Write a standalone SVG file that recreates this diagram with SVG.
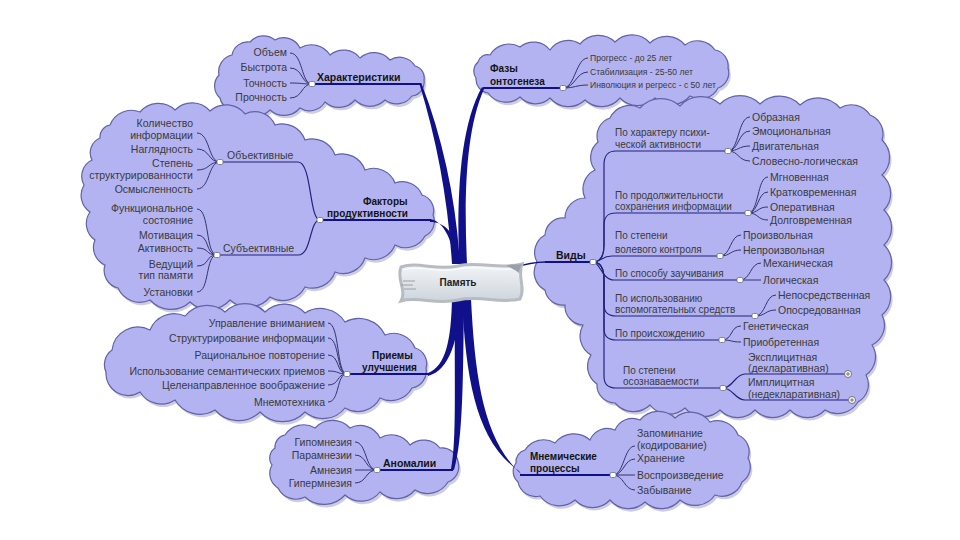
<svg xmlns="http://www.w3.org/2000/svg" width="960" height="540" viewBox="0 0 960 540">
<defs>
<style>
.cloud{fill:#b3b3f2;stroke:#6262a6;stroke-width:1.2}
.csh{fill:#8e8ec0;opacity:.45}
.trunk{fill:#10108a}
.ul{fill:none;stroke:#10108a;stroke-width:2}
.ln{fill:none;stroke:#34346e;stroke-width:1}
.sl{fill:none;stroke:#22227a;stroke-width:1.2}
.t{font-family:"Liberation Sans",Arial,sans-serif;font-size:10.5px;fill:#3a3a3a}
.s{font-size:10px}
.f{font-size:8.6px}
.e{text-anchor:end}
.b{font-family:"Liberation Sans",Arial,sans-serif;font-size:10.5px;font-weight:bold;fill:#141414}
.b2{font-size:10px}
.hub{fill:#fff;stroke:#6a6a8a;stroke-width:.8}
.pm{fill:#fff;stroke:#555;stroke-width:.8}
</style>
<linearGradient id="cg" x1="0" y1="0" x2="0" y2="1">
<stop offset="0" stop-color="#f3f5f7"/><stop offset="1" stop-color="#cdd4dc"/>
</linearGradient>
<path id="cA" d="M232,55 A16,16 0 0 1 250,42 A18,18 0 0 1 275,40 A18,18 0 0 1 300,48 A22,22 0 0 1 330,55 A21,21 0 0 1 360,58 A21,21 0 0 1 390,60 A18,18 0 0 1 415,66 A12,12 0 0 1 424,80 A14,14 0 0 1 412,96 A19,19 0 0 1 385,100 A21,21 0 0 1 355,100 A21,21 0 0 1 325,102 A18,18 0 0 1 300,108 A21,21 0 0 1 270,110 A21,21 0 0 1 240,110 A16,16 0 0 1 220,98 A16,16 0 0 1 219,75 A17,17 0 0 1 232,55 Z"/>
<path id="cB" d="M110,125 A23,23 0 0 1 140,112 A24,24 0 0 1 175,110 A24,24 0 0 1 210,111 A24,24 0 0 1 245,114 A22,22 0 0 1 275,125 A24,24 0 0 1 305,140 A24,24 0 0 1 335,155 A24,24 0 0 1 365,170 A23,23 0 0 1 395,183 A21,21 0 0 1 422,195 A16,16 0 0 1 433,215 A16,16 0 0 1 425,236 A22,22 0 0 1 395,245 A23,23 0 0 1 365,258 A23,23 0 0 1 335,272 A24,24 0 0 1 305,287 A25,25 0 0 1 270,297 A28,28 0 0 1 230,300 A28,28 0 0 1 190,302 A28,28 0 0 1 150,300 A24,24 0 0 1 118,288 A18,18 0 0 1 105,265 A19,19 0 0 1 95,240 A20,20 0 0 1 90,212 A20,20 0 0 1 84,185 A18,18 0 0 1 92,160 A16,16 0 0 1 100,138 A12,12 0 0 1 110,125 Z"/>
<path id="cC" d="M150,330 A26,26 0 0 1 185,316 A28,28 0 0 1 225,312 A28,28 0 0 1 265,312 A28,28 0 0 1 305,313 A29,29 0 0 1 345,322 A29,29 0 0 1 385,335 A23,23 0 0 1 415,348 A16,16 0 0 1 426,368 A17,17 0 0 1 412,388 A24,24 0 0 1 380,398 A25,25 0 0 1 345,408 A28,28 0 0 1 305,412 A31,31 0 0 1 260,412 A31,31 0 0 1 215,410 A29,29 0 0 1 175,400 A25,25 0 0 1 140,392 A22,22 0 0 1 106,372 A18,18 0 0 1 112,350 A26,26 0 0 1 150,330 Z"/>
<path id="cD" d="M285,435 A22,22 0 0 1 315,428 A24,24 0 0 1 350,428 A22,22 0 0 1 380,438 A22,22 0 0 1 410,445 A21,21 0 0 1 440,448 A16,16 0 0 1 458,462 A16,16 0 0 1 448,482 A24,24 0 0 1 415,490 A24,24 0 0 1 380,492 A24,24 0 0 1 345,495 A28,28 0 0 1 305,497 A20,20 0 0 1 278,488 A17,17 0 0 1 272,465 A12,12 0 0 1 275,448 A12,12 0 0 1 285,435 Z"/>
<path id="cE" d="M490,55 A22,22 0 0 1 520,47 A21,21 0 0 1 550,50 A22,22 0 0 1 580,44 A24,24 0 0 1 615,42 A24,24 0 0 1 650,43 A24,24 0 0 1 685,45 A21,21 0 0 1 715,50 A16,16 0 0 1 728,68 A16,16 0 0 1 718,88 A20,20 0 0 1 690,96 A24,24 0 0 1 655,98 A24,24 0 0 1 620,98 A24,24 0 0 1 585,100 A24,24 0 0 1 550,98 A21,21 0 0 1 520,97 A22,22 0 0 1 488,93 A14,14 0 0 1 476,78 A12,12 0 0 1 478,62 A10,10 0 0 1 490,55 Z"/>
<path id="cF" d="M610,118 A22,22 0 0 1 640,108 A28,28 0 0 1 680,106 A28,28 0 0 1 720,104 A28,28 0 0 1 760,104 A28,28 0 0 1 800,105 A28,28 0 0 1 840,108 A22,22 0 0 1 870,115 A20,20 0 0 1 882,140 A24,24 0 0 1 882,175 A24,24 0 0 1 884,210 A24,24 0 0 1 884,245 A24,24 0 0 1 884,280 A24,24 0 0 1 882,315 A22,22 0 0 1 872,345 A22,22 0 0 1 866,375 A20,20 0 0 1 858,402 A24,24 0 0 1 825,410 A24,24 0 0 1 790,410 A24,24 0 0 1 755,410 A24,24 0 0 1 720,410 A24,24 0 0 1 685,408 A24,24 0 0 1 650,405 A24,24 0 0 1 615,403 A18,18 0 0 1 597,384 A21,21 0 0 1 591,355 A22,22 0 0 1 583,325 A19,19 0 0 1 565,305 A18,18 0 0 1 545,290 A20,20 0 0 1 537,262 A20,20 0 0 1 545,235 A18,18 0 0 1 565,218 A20,20 0 0 1 585,198 A21,21 0 0 1 595,170 A20,20 0 0 1 598,142 A19,19 0 0 1 610,118 Z"/>
<path id="cG" d="M525,450 A22,22 0 0 1 555,443 A24,24 0 0 1 590,440 A19,19 0 0 1 615,430 A19,19 0 0 1 640,420 A24,24 0 0 1 675,418 A24,24 0 0 1 710,422 A22,22 0 0 1 738,435 A18,18 0 0 1 748,458 A18,18 0 0 1 742,482 A21,21 0 0 1 715,495 A24,24 0 0 1 680,500 A24,24 0 0 1 645,502 A24,24 0 0 1 610,500 A24,24 0 0 1 575,500 A24,24 0 0 1 540,496 A18,18 0 0 1 518,482 A14,14 0 0 1 516,463 A12,12 0 0 1 525,450 Z"/>
</defs>
<rect width="960" height="540" fill="#fff"/>

<g id="boundaries">
<g id="b-char"><use href="#cA" class="csh" transform="translate(2,3)"/><use href="#cA" class="cloud"/></g>
<g id="b-factors"><use href="#cB" class="csh" transform="translate(2,3)"/><use href="#cB" class="cloud"/></g>
<g id="b-methods"><use href="#cC" class="csh" transform="translate(2,3)"/><use href="#cC" class="cloud"/></g>
<g id="b-anomalies"><use href="#cD" class="csh" transform="translate(2,3)"/><use href="#cD" class="cloud"/></g>
<g id="b-phases"><use href="#cE" class="csh" transform="translate(2,3)"/><use href="#cE" class="cloud"/></g>
<g id="b-types"><use href="#cF" class="csh" transform="translate(2,3)"/><use href="#cF" class="cloud"/></g>
<g id="b-processes"><use href="#cG" class="csh" transform="translate(2,3)"/><use href="#cG" class="cloud"/></g>
</g>

<g id="connectors">
<path class="trunk" d="M452,264 C448,200 437,141 419.3,83.5 L421.3,83 C443,139 456,200 460,264 Z"/>
<path class="trunk" d="M459,264 C457,200 459,128 482,87 L484,89 C465,132 464,200 467,264 Z"/>
<path class="trunk" d="M430,219 C442,221 451,236 454,258 L459,258 C456,233 445,222 430,222 Z"/>
<path class="trunk" d="M452,299 C451,340 446,366 428,373 L428,376 C450,370 458,340 461,299 Z"/>
<path class="trunk" d="M455,299 C454,380 457,440 451,469 L454,470 C463,440 463,380 464,299 Z"/>
<path class="trunk" d="M462,299 C466,382 477,442 519,471 L521,474 C484,440 475,380 471,299 Z"/>
<path d="M512,268 C522,265 533,262 545,262" fill="none" stroke="#10108a" stroke-width="1.5"/>
<path class="ul" d="M312,84 L421,84"/>
<path class="ul" d="M320,220 L431,220"/>
<path class="ul" d="M347,374 L430,374"/>
<path class="ul" d="M377,470 L453,470"/>
<path class="ul" d="M483,88 L563,88"/>
<path class="ul" d="M545,262 L593,262"/>
<path class="ul" d="M520,475 L613,475"/>
<path class="ln" d="M290,53 C303,53 301,84 312,84"/>
<path class="ln" d="M290,68 C303,68 301,84 312,84"/>
<path class="ln" d="M290,83 C303,83 301,84 312,84"/>
<path class="ln" d="M290,98 C303,98 301,84 312,84"/>
<path class="sl" d="M220,162 L298,162 C312,162 309,220 320,220"/>
<path class="sl" d="M217,255 L298,255 C312,255 309,220 320,220"/>
<path class="ln" d="M197,133 C210,133 208,162 220,162"/>
<path class="ln" d="M197,149 C210,149 208,162 220,162"/>
<path class="ln" d="M197,170 C210,170 208,162 220,162"/>
<path class="ln" d="M197,189 C210,189 208,162 220,162"/>
<path class="ln" d="M197,209 C210,209 205,255 217,255"/>
<path class="ln" d="M197,235 C210,235 205,255 217,255"/>
<path class="ln" d="M197,248 C210,248 205,255 217,255"/>
<path class="ln" d="M197,266 C210,266 205,255 217,255"/>
<path class="ln" d="M197,292 C210,292 205,255 217,255"/>
<path class="ln" d="M328,323 C340,323 336,374 347,374"/>
<path class="ln" d="M328,338 C340,338 336,374 347,374"/>
<path class="ln" d="M328,355 C340,355 336,374 347,374"/>
<path class="ln" d="M328,371 C340,371 336,374 347,374"/>
<path class="ln" d="M328,385 C340,385 336,374 347,374"/>
<path class="ln" d="M328,402 C340,402 336,374 347,374"/>
<path class="ln" d="M355,442 C367,442 365,470 377,470"/>
<path class="ln" d="M355,455 C367,455 365,470 377,470"/>
<path class="ln" d="M355,470 L377,470"/>
<path class="ln" d="M355,483 C367,483 365,470 377,470"/>
<path class="ln" d="M563,88 C575,88 576,58 588,58"/>
<path class="ln" d="M563,88 C575,88 576,72 588,72"/>
<path class="ln" d="M563,88 C575,88 576,85 588,85"/>
<path class="sl" d="M593,262 C601,262 604,255 604,245 L604,165 C604,156 607,151 616,151 L728,151"/>
<path class="sl" d="M593,262 C601,262 604,255 604,245 L604,225 C604,217 607,213 616,213 L748,213"/>
<path class="sl" d="M593,262 C600,262 602,256 612,256 L720,256"/>
<path class="sl" d="M593,262 C600,262 602,280 614,280 L740,280"/>
<path class="sl" d="M593,262 C601,262 604,270 604,280 L604,304 C604,312 607,316 616,316 L755,316"/>
<path class="sl" d="M593,262 C601,262 604,270 604,280 L604,328 C604,336 607,340 616,340 L722,340"/>
<path class="sl" d="M593,262 C601,262 604,270 604,280 L604,376 C604,384 607,388 616,388 L723,388"/>
<path class="ln" d="M728,151 C739,151 738,117 750,117"/>
<path class="ln" d="M728,151 C739,151 738,131 750,131"/>
<path class="ln" d="M728,151 C739,151 738,146 750,146"/>
<path class="ln" d="M728,151 C739,151 738,161 750,161"/>
<path class="ln" d="M748,213 C759,213 757,177 768,177"/>
<path class="ln" d="M748,213 C759,213 757,192 768,192"/>
<path class="ln" d="M748,213 C759,213 757,207 768,207"/>
<path class="ln" d="M748,213 C759,213 757,220 768,220"/>
<path class="ln" d="M720,256 C731,256 730,235 741,235"/>
<path class="ln" d="M720,256 C731,256 730,250 741,250"/>
<path class="ln" d="M740,280 C751,280 750,263 761,263"/>
<path class="ln" d="M740,280 L761,280"/>
<path class="ln" d="M755,316 C766,316 765,295 776,295"/>
<path class="ln" d="M755,316 C766,316 765,310 776,310"/>
<path class="ln" d="M722,340 C733,340 730,326 741,326"/>
<path class="ln" d="M722,340 C733,340 730,342 741,342"/>
<path class="sl" d="M723,388 C733,388 735,374 745,374 L844,374"/>
<path class="sl" d="M723,388 C733,388 735,400 745,400 L848,400"/>
<path class="ln" d="M613,475 C624,475 624,446 635,446"/>
<path class="ln" d="M613,475 C624,475 624,459 635,459"/>
<path class="ln" d="M613,475 L635,475"/>
<path class="ln" d="M613,475 C624,475 624,490 635,490"/>
</g>

<g id="n-center">
<path d="M401,267 C418,261 436,271 458,266 C480,261 500,270 522,264 C517,276 526,288 520,299 C500,304 480,295 458,300 C436,305 418,296 401,301 C407,290 396,279 401,267 Z" fill="url(#cg)" stroke="#b7bcc2" stroke-width="3"/>
<path d="M404,270 C420,265 438,273 458,269 C480,265 500,272 517,268" fill="none" stroke="#fff" stroke-width="1"/>
<path d="M506,266 C512,264 517,265 522,264 C520,268 519,271 519,273 C515,270 511,268 506,266 Z" fill="#9aa0a8"/>
<path d="M403,281 L415,281 M401,285 L413,285 M404,289 L416,289" stroke="#9aa0a8" stroke-width="1"/>
<text class="b" x="458" y="286" text-anchor="middle" style="font-size:10px;fill:#222">Память</text>
</g>

<g id="n-char">
<text class="b" x="317" y="81">Характеристики</text>
<rect class="hub" x="309" y="81.5" width="6" height="5" rx="1.5"/>
</g>
<g id="n-char-items">
<text class="t e" x="287" y="56">Объем</text>
<text class="t e" x="287" y="71">Быстрота</text>
<text class="t e" x="287" y="87">Точность</text>
<text class="t e" x="287" y="101">Прочность</text>
</g>

<g id="n-factors">
<text class="b b2" x="363" y="205">Факторы</text>
<text class="b b2" x="327" y="217">продуктивности</text>
<rect class="hub" x="317" y="217.5" width="6" height="5" rx="1.5"/>
</g>
<g id="n-objective">
<text class="t" x="227" y="159">Объективные</text>
<rect class="hub" x="217" y="159.5" width="6" height="5" rx="1.5"/>
<text class="t e" x="193" y="127">Количество</text>
<text class="t e" x="193" y="139">информации</text>
<text class="t e" x="193" y="153">Наглядность</text>
<text class="t e" x="193" y="167">Степень</text>
<text class="t e" x="193" y="179">структурированности</text>
<text class="t e" x="193" y="193">Осмысленность</text>
</g>
<g id="n-subjective">
<text class="t" x="223" y="252">Субъективные</text>
<rect class="hub" x="214" y="252.5" width="6" height="5" rx="1.5"/>
<text class="t e" x="193" y="212">Функциональное</text>
<text class="t e" x="193" y="224">состояние</text>
<text class="t e" x="193" y="239">Мотивация</text>
<text class="t e" x="193" y="252">Активность</text>
<text class="t e" x="193" y="268">Ведущий</text>
<text class="t e" x="193" y="279">тип памяти</text>
<text class="t e" x="193" y="296">Установки</text>
</g>

<g id="n-methods">
<text class="b b2" x="372" y="359">Приемы</text>
<text class="b b2" x="362" y="371">улучшения</text>
<rect class="hub" x="344" y="371.5" width="6" height="5" rx="1.5"/>
<text class="t e" x="325" y="326.5">Управление вниманием</text>
<text class="t e" x="325" y="341.5">Структурирование информации</text>
<text class="t e" x="325" y="358.5">Рациональное повторение</text>
<text class="t e" x="325" y="374.5">Использование семантических приемов</text>
<text class="t e" x="325" y="388.5">Целенаправленное воображение</text>
<text class="t e" x="325" y="405.5">Мнемотехника</text>
</g>

<g id="n-anomalies">
<text class="b" x="383" y="467">Аномалии</text>
<rect class="hub" x="374" y="467.5" width="6" height="5" rx="1.5"/>
<text class="t e" x="352" y="445.5">Гипомнезия</text>
<text class="t e" x="352" y="458.5">Парамнезии</text>
<text class="t e" x="352" y="473.5">Амнезия</text>
<text class="t e" x="352" y="486.5">Гипермнезия</text>
</g>

<g id="n-phases">
<text class="b b2" x="490" y="72">Фазы</text>
<text class="b b2" x="490" y="85">онтогенеза</text>
<rect class="hub" x="560" y="85.5" width="6" height="5" rx="1.5"/>
<text class="t f" x="590" y="61">Прогресс - до 25 лет</text>
<text class="t f" x="590" y="75">Стабилизация - 25-50 лет</text>
<text class="t f" x="590" y="88">Инволюция и регресс - с 50 лет</text>
</g>

<g id="n-types">
<text class="b" x="556" y="259">Виды</text>
<rect class="hub" x="590" y="259.5" width="6" height="5" rx="1.5"/>
</g>
<g id="n-types-activity">
<text class="t s" x="615" y="136">По характеру психи-</text>
<text class="t s" x="615" y="148">ческой активности</text>
<rect class="hub" x="725" y="148.5" width="6" height="5" rx="1.5"/>
<text class="t" x="752" y="120.5">Образная</text>
<text class="t" x="752" y="134.5">Эмоциональная</text>
<text class="t" x="752" y="149.5">Двигательная</text>
<text class="t" x="752" y="164.5">Словесно-логическая</text>
</g>
<g id="n-types-duration">
<text class="t s" x="615" y="199">По продолжительности</text>
<text class="t s" x="615" y="210">сохранения информации</text>
<rect class="hub" x="745" y="210.5" width="6" height="5" rx="1.5"/>
<text class="t" x="770" y="180.5">Мгновенная</text>
<text class="t" x="770" y="195.5">Кратковременная</text>
<text class="t" x="770" y="210.5">Оперативная</text>
<text class="t" x="770" y="223.5">Долговременная</text>
</g>
<g id="n-types-control">
<text class="t s" x="615" y="239">По степени</text>
<text class="t s" x="615" y="253">волевого контроля</text>
<rect class="hub" x="717" y="253.5" width="6" height="5" rx="1.5"/>
<text class="t" x="743" y="238.5">Произвольная</text>
<text class="t" x="743" y="253.5">Непроизвольная</text>
</g>
<g id="n-types-method">
<text class="t s" x="615" y="277">По способу заучивания</text>
<rect class="hub" x="737" y="277.5" width="6" height="5" rx="1.5"/>
<text class="t" x="763" y="266.5">Механическая</text>
<text class="t" x="763" y="283.5">Логическая</text>
</g>
<g id="n-types-means">
<text class="t s" x="615" y="302">По использованию</text>
<text class="t s" x="615" y="313">вспомогательных средств</text>
<rect class="hub" x="752" y="313.5" width="6" height="5" rx="1.5"/>
<text class="t" x="778" y="298.5">Непосредственная</text>
<text class="t" x="778" y="313.5">Опосредованная</text>
</g>
<g id="n-types-origin">
<text class="t s" x="615" y="337">По происхождению</text>
<rect class="hub" x="719" y="337.5" width="6" height="5" rx="1.5"/>
<text class="t" x="743" y="329.5">Генетическая</text>
<text class="t" x="743" y="345.5">Приобретенная</text>
</g>
<g id="n-types-awareness">
<text class="t s" x="623" y="374">По степени</text>
<text class="t s" x="623" y="385">осознаваемости</text>
<rect class="hub" x="720" y="385.5" width="6" height="5" rx="1.5"/>
<text class="t" x="748" y="360.5">Эксплицитная</text>
<text class="t" x="748" y="371.5">(декларативная)</text>
<circle class="pm" cx="848" cy="374" r="3.5"/><path d="M846,374 H850 M848,372 V376" stroke="#555" stroke-width=".8"/>
<text class="t" x="748" y="385.5">Имплицитная</text>
<text class="t" x="748" y="397.5">(недекларативная)</text>
<circle class="pm" cx="852" cy="400" r="3.5"/><path d="M850,400 H854 M852,398 V402" stroke="#555" stroke-width=".8"/>
</g>

<g id="n-processes">
<text class="b b2" x="530" y="460">Мнемические</text>
<text class="b b2" x="530" y="472">процессы</text>
<rect class="hub" x="610" y="472.5" width="6" height="5" rx="1.5"/>
<text class="t" x="637" y="436.5">Запоминание</text>
<text class="t" x="637" y="448.5">(кодирование)</text>
<text class="t" x="637" y="461.5">Хранение</text>
<text class="t" x="637" y="478.5">Воспроизведение</text>
<text class="t" x="637" y="493.5">Забывание</text>
</g>
</svg>
